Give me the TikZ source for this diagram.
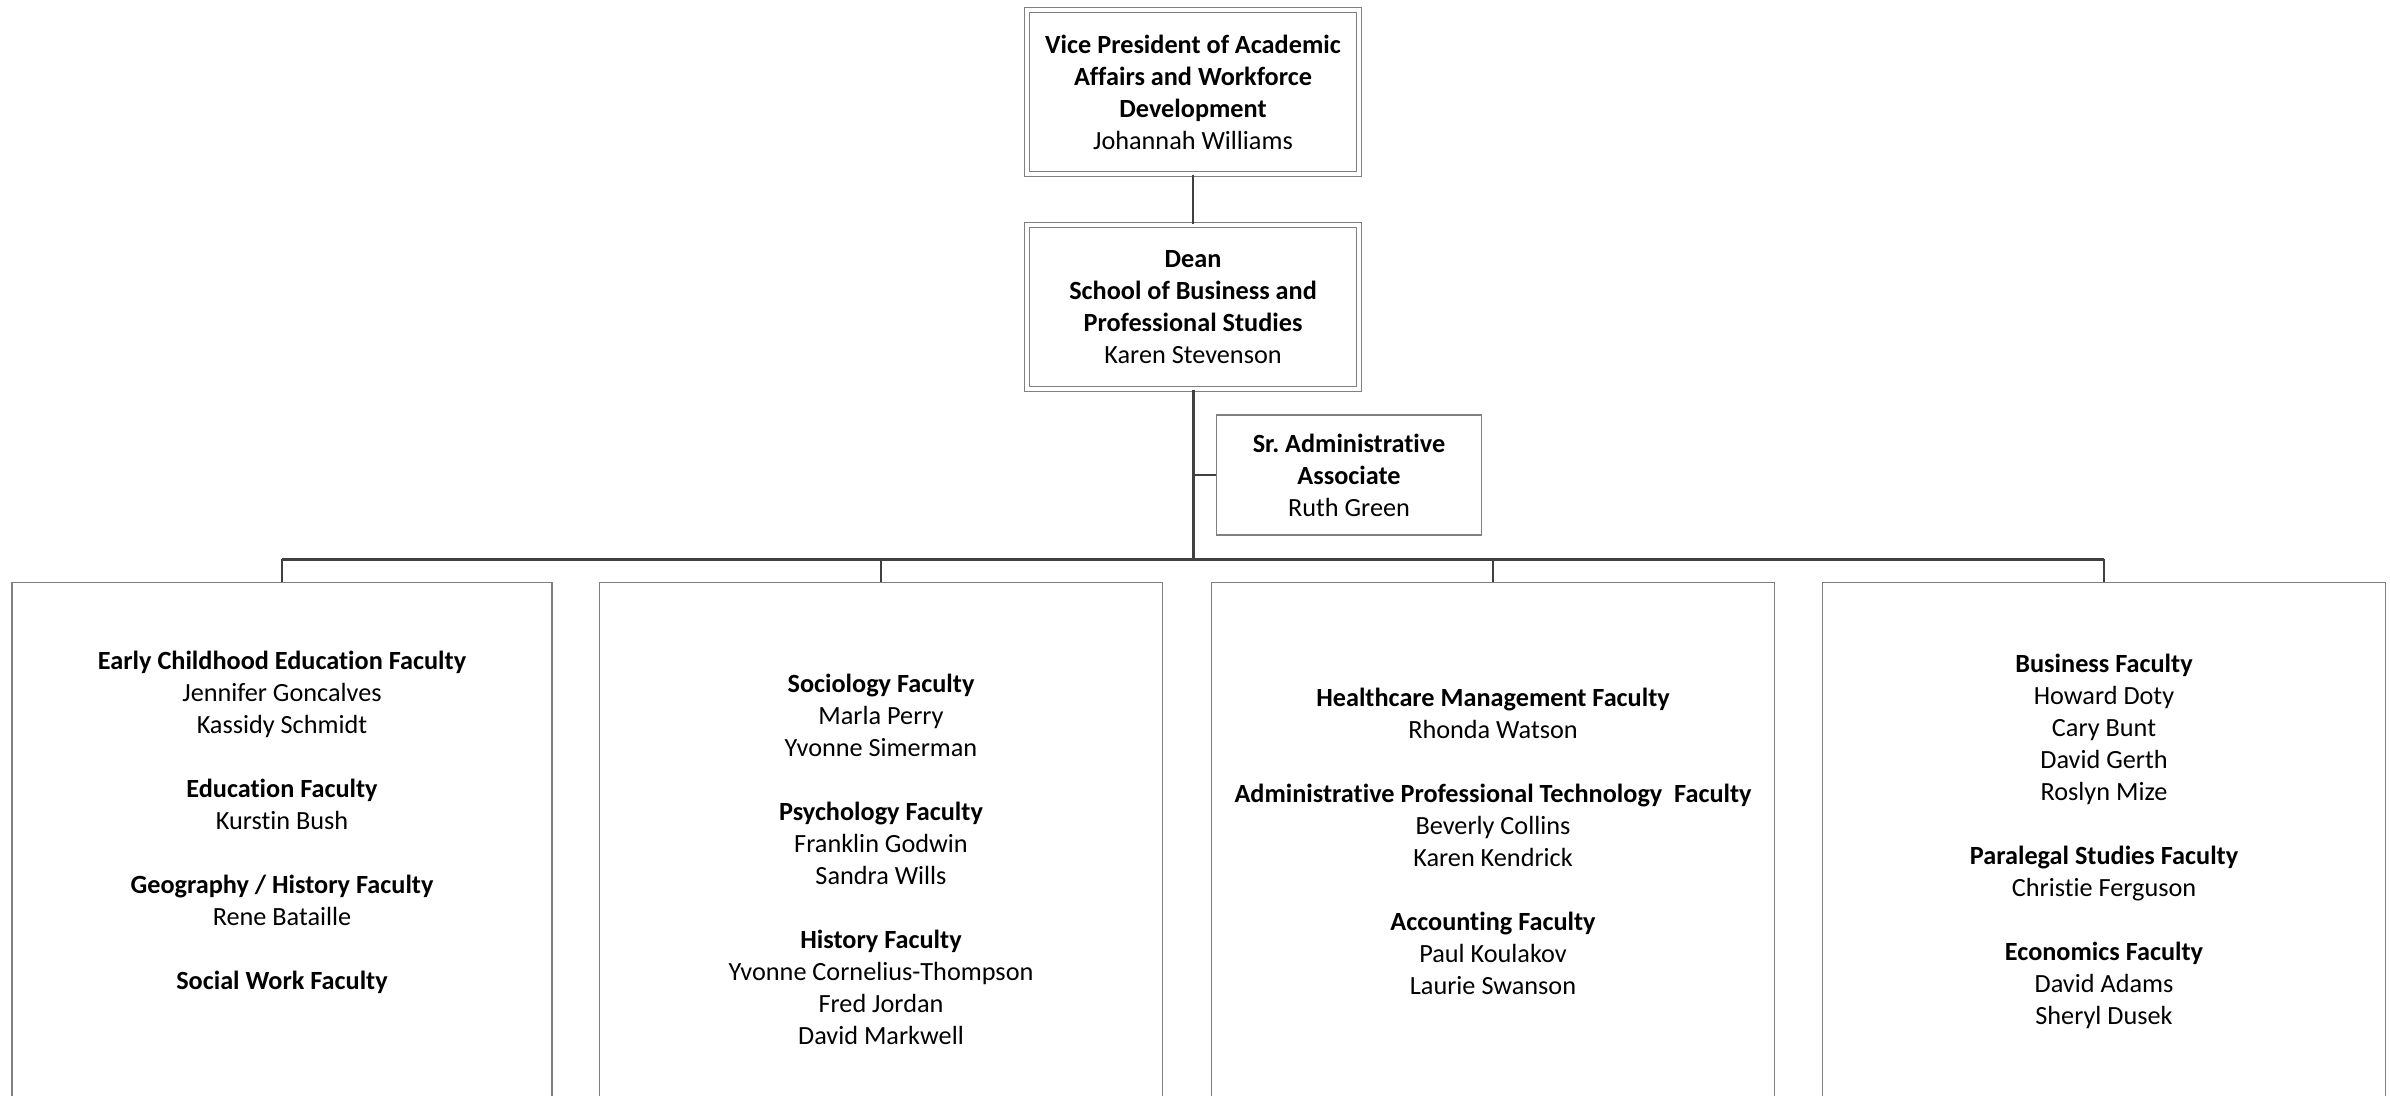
\documentclass[tikz,border=0pt]{standalone}
\usepackage{fontspec}
\setmainfont{Carlito}[Ligatures=NoCommon]
\usetikzlibrary{positioning}
\newcommand{\pxu}{0.419}
\frenchspacing

\begin{document}
\begin{tikzpicture}[
    x=\pxu pt, y=-\pxu pt,
    every node/.style={font=\fontsize{11pt}{13.4pt}\selectfont, align=center, inner sep=0pt},
    office/.style={draw=black!50, double=white, double distance=1.5pt, line width=0.6pt, minimum width=332*\pxu pt, minimum height=164*\pxu pt},
    staff/.style={draw=black!50, line width=0.6pt, minimum width=265*\pxu pt, minimum height=120*\pxu pt},
    faculty/.style={draw=black!50, line width=0.6pt, anchor=north, minimum width=563*\pxu pt, minimum height=517*\pxu pt},
    link/.style={draw=black!75, line width=0.85pt},
    trunk/.style={draw=black!75, line width=1.25pt}
]
\useasboundingbox (0,0) rectangle (2390,1095);

\node[office] (vp) at (1193,92) {\textbf{Vice President of Academic}\\\textbf{Affairs and Workforce}\\\textbf{Development}\\Johannah Williams};
\node[office] (dean) at (1193,307) {\textbf{Dean}\\\textbf{School of Business and}\\\textbf{Professional Studies}\\Karen Stevenson};
\node[staff] (admin) at (1349,475) {\textbf{Sr. Administrative}\\\textbf{Associate}\\Ruth Green};

\node[faculty, minimum width=540*\pxu pt] (ece) at (282,582) {\textbf{Early Childhood Education Faculty}\\Jennifer Goncalves\\Kassidy Schmidt\\\strut\\\textbf{Education Faculty}\\Kurstin Bush\\\strut\\\textbf{Geography / History Faculty}\\Rene Bataille\\\strut\\\textbf{Social Work Faculty}\\\strut};
\node[faculty] (soc) at (881,582) {\strut\\\textbf{Sociology Faculty}\\Marla Perry\\Yvonne Simerman\\\strut\\\textbf{Psychology Faculty}\\Franklin Godwin\\Sandra Wills\\\strut\\\textbf{History Faculty}\\Yvonne Cornelius-Thompson\\Fred Jordan\\David Markwell};
\node[faculty] (hcm) at (1493,582) {\textbf{Healthcare Management Faculty}\\Rhonda Watson\\\strut\\\textbf{Administrative Professional Technology\ \ Faculty}\\Beverly Collins\\Karen Kendrick\\\strut\\\textbf{Accounting Faculty}\\Paul Koulakov\\Laurie Swanson};
\node[faculty] (busfac) at (2104,582) {\textbf{Business Faculty}\\Howard Doty\\Cary Bunt\\David Gerth\\Roslyn Mize\\\strut\\\textbf{Paralegal Studies Faculty}\\Christie Ferguson\\\strut\\\textbf{Economics Faculty}\\David Adams\\Sheryl Dusek};

\coordinate (hub) at (1193,559);

% reporting lines
\draw[link] (vp) -- (dean);
\draw[trunk] (dean.south) -- (hub);
\draw[link] (admin.west) -- (admin.west -| hub);
\draw[trunk] (ece.north |- hub) -- (busfac.north |- hub);
\foreach \f in {ece,soc,hcm,busfac}
    \draw[link] (\f.north) -- (\f.north |- hub);
\end{tikzpicture}
\end{document}
